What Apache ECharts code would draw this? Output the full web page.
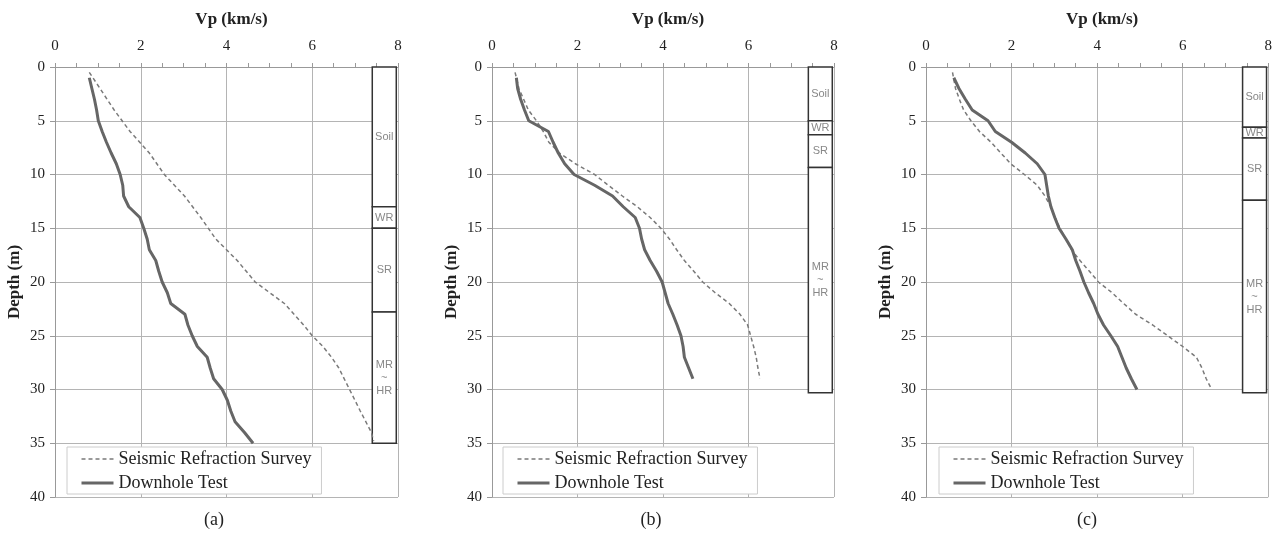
<!DOCTYPE html>
<html><head><meta charset="utf-8">
<script src="https://cdn.jsdelivr.net/npm/echarts@6/dist/echarts.min.js"></script>
<style>html,body{margin:0;padding:0;background:#fff}#c{width:1275px;height:534px}</style>
</head><body><div id="c"></div>
<script>
// ---------- DATA ----------
const seriesNames = ['Seismic Refraction Survey', 'Downhole Test'];
const panelLabels = ['(a)', '(b)', '(c)'];
const xTickValues = [0, 2, 4, 6, 8];
const yTickValues = [0, 5, 10, 15, 20, 25, 30, 35, 40];

// Panel (a)
const aRefDepth = [0.5, 2, 4, 6, 8, 10, 12, 14, 16, 17, 18, 20, 22, 24, 25, 26, 27, 28, 30, 32, 34, 34.8];
const aRefVp    = [0.8, 1.05, 1.38, 1.75, 2.2, 2.55, 3.02, 3.4, 3.75, 4.0, 4.25, 4.67, 5.35, 5.8, 6.0, 6.25, 6.45, 6.62, 6.87, 7.12, 7.38, 7.43];
const aDhDepth  = [1, 2, 3, 4, 5, 6, 7, 8, 9, 10, 11, 12, 13, 14, 15, 16, 17, 18, 19, 20, 21, 22, 23, 24, 25, 26, 27, 28, 29, 30, 31, 32, 33, 34, 35];
const aDhVp     = [0.8, 0.86, 0.92, 0.97, 1.01, 1.1, 1.2, 1.31, 1.43, 1.52, 1.58, 1.6, 1.72, 1.98, 2.07, 2.15, 2.2, 2.35, 2.42, 2.5, 2.62, 2.7, 3.03, 3.1, 3.2, 3.32, 3.55, 3.62, 3.7, 3.9, 4.02, 4.1, 4.2, 4.42, 4.62];
const aStrataNames = ['Soil', 'WR', 'SR', 'MR\n~\nHR'];
const aStrataTops  = [0, 13, 15, 22.8];
const aStrataBots  = [13, 15, 22.8, 35];

// Panel (b)
const bRefDepth = [0.5, 2, 4, 5, 6, 7, 8, 9, 10, 11, 12, 13, 14, 15, 16, 17, 18, 19, 20, 21, 22, 23, 24, 25, 26, 27, 28, 29];
const bRefVp    = [0.54, 0.63, 0.85, 1.04, 1.2, 1.33, 1.58, 1.95, 2.4, 2.72, 3.05, 3.4, 3.7, 3.95, 4.15, 4.32, 4.5, 4.72, 4.93, 5.22, 5.55, 5.8, 5.98, 6.05, 6.12, 6.18, 6.22, 6.27];
const bDhDepth  = [1, 2, 3, 4, 5, 6, 7, 8, 9, 10, 11, 12, 13, 14, 15, 16, 17, 18, 19, 20, 21, 22, 23, 24, 25, 26, 27, 28, 29];
const bDhVp     = [0.57, 0.6, 0.67, 0.76, 0.86, 1.32, 1.43, 1.55, 1.7, 1.92, 2.4, 2.82, 3.07, 3.35, 3.45, 3.5, 3.57, 3.7, 3.85, 3.98, 4.05, 4.12, 4.23, 4.33, 4.42, 4.47, 4.5, 4.6, 4.7];
const bStrataNames = ['Soil', 'WR', 'SR', 'MR\n~\nHR'];
const bStrataTops  = [0, 5, 6.3, 9.35];
const bStrataBots  = [5, 6.3, 9.35, 30.3];

// Panel (c)
const cRefDepth = [0.5, 2, 3, 4, 5, 6, 7, 8, 9, 10, 11, 12, 13, 14, 15, 16, 17, 18, 19, 20, 21, 22, 23, 24, 25, 26, 27, 28, 29, 30];
const cRefVp    = [0.62, 0.69, 0.78, 0.88, 1.05, 1.25, 1.52, 1.75, 1.98, 2.3, 2.6, 2.78, 2.92, 3.02, 3.13, 3.27, 3.4, 3.6, 3.82, 4.03, 4.35, 4.62, 4.9, 5.3, 5.65, 6.0, 6.32, 6.45, 6.55, 6.68];
const cDhDepth  = [1, 2, 3, 4, 5, 6, 7, 8, 9, 10, 11, 12, 13, 14, 15, 16, 17, 18, 19, 20, 21, 22, 23, 24, 25, 26, 27, 28, 29, 30];
const cDhVp     = [0.65, 0.77, 0.92, 1.08, 1.45, 1.62, 2.0, 2.32, 2.6, 2.78, 2.82, 2.86, 2.92, 3.01, 3.11, 3.27, 3.42, 3.5, 3.6, 3.69, 3.8, 3.92, 4.02, 4.15, 4.32, 4.48, 4.58, 4.68, 4.8, 4.93];
const cStrataNames = ['Soil', 'WR', 'SR', 'MR\n~\nHR'];
const cStrataTops  = [0, 5.6, 6.6, 12.4];
const cStrataBots  = [5.6, 6.6, 12.4, 30.3];

// ---------- BUILD ----------
const panels = [
  {ref: [aRefVp, aRefDepth], dh: [aDhVp, aDhDepth], st: [aStrataNames, aStrataTops, aStrataBots]},
  {ref: [bRefVp, bRefDepth], dh: [bDhVp, bDhDepth], st: [bStrataNames, bStrataTops, bStrataBots]},
  {ref: [cRefVp, cRefDepth], dh: [cDhVp, cDhDepth], st: [cStrataNames, cStrataTops, cStrataBots]}
];
const grids = [
  {left: 55, top: 67, width: 343, height: 430},
  {left: 492, top: 67, width: 342, height: 430},
  {left: 926, top: 67, width: 348, height: 430}
];
const legendPos = [{left: 67, top: 447}, {left: 503, top: 447}, {left: 939, top: 447}];
const captionX = [214, 651, 1087];
const COL_X0 = 7.4, COL_X1 = 7.96;
const SERIF = 'Liberation Serif';
const zip = (xs, ys) => xs.map((x, i) => [x, ys[i]]);

const xAxes = [], yAxes = [], series = [], legends = [], graphics = [];
panels.forEach((p, i) => {
  xAxes.push({
    gridIndex: i, type: 'value', position: 'top', min: xTickValues[0], max: xTickValues[xTickValues.length - 1],
    interval: xTickValues[1] - xTickValues[0],
    name: 'Vp (km/s)', nameLocation: 'middle', nameGap: 39,
    nameTextStyle: {fontFamily: SERIF, fontWeight: 'bold', fontSize: 17, color: '#222', padding: [0, 0, 0, 10]},
    axisLine: {show: true, lineStyle: {color: '#999', width: 1}},
    axisTick: {show: true, length: 4, lineStyle: {color: '#999'}},
    minorTick: {show: true, splitNumber: 4, length: 4, lineStyle: {color: '#999'}},
    splitLine: {show: true, lineStyle: {color: '#b4b4b4', width: 1}},
    axisLabel: {fontFamily: SERIF, fontSize: 15, color: '#222', margin: 13}
  });
  yAxes.push({
    gridIndex: i, type: 'value', inverse: true, min: yTickValues[0], max: yTickValues[yTickValues.length - 1],
    interval: yTickValues[1] - yTickValues[0],
    name: 'Depth (m)', nameLocation: 'middle', nameGap: 32, nameRotate: 90,
    nameTextStyle: {fontFamily: SERIF, fontWeight: 'bold', fontSize: 17, color: '#222'},
    axisLine: {show: true, lineStyle: {color: '#999', width: 1}},
    axisTick: {show: true, length: 5, lineStyle: {color: '#999'}},
    splitLine: {show: true, lineStyle: {color: '#b4b4b4', width: 1}},
    axisLabel: {fontFamily: SERIF, fontSize: 15, color: '#222', margin: 10}
  });
  const [sNames, sTops, sBots] = p.st;
  series.push({
    name: seriesNames[0], type: 'line', xAxisIndex: i, yAxisIndex: i, symbol: 'none',
    data: zip(p.ref[0], p.ref[1]), z: 3,
    lineStyle: {color: '#7a7a7a', width: 1.5, type: [4, 3]}, itemStyle: {color: '#7a7a7a'}
  });
  series.push({
    name: seriesNames[1], type: 'line', xAxisIndex: i, yAxisIndex: i, symbol: 'none',
    data: zip(p.dh[0], p.dh[1]), z: 4,
    lineStyle: {color: '#666', width: 3}, itemStyle: {color: '#666'},
    markArea: {
      silent: true,
      itemStyle: {color: '#fff', borderColor: '#333', borderWidth: 1.5},
      label: {show: true, position: 'inside', color: '#888', fontFamily: 'Liberation Sans', fontSize: 11, lineHeight: 13},
      data: sNames.map((n, k) => [{name: n, xAxis: COL_X0, yAxis: sTops[k]}, {xAxis: COL_X1, yAxis: sBots[k]}])
    }
  });
  legends.push({
    left: legendPos[i].left, top: legendPos[i].top, orient: 'vertical',
    data: [
      {name: seriesNames[0], lineStyle: {width: 1.5, color: '#7a7a7a', type: [4, 3]}},
      {name: seriesNames[1], lineStyle: {width: 3, color: '#666', type: 'solid'}}
    ],
    itemWidth: 32, itemHeight: 14, itemGap: 6,
    padding: [3, 10, 2, 13], borderColor: '#ccc', borderWidth: 1, backgroundColor: '#fff',
    itemStyle: {opacity: 0},
    textStyle: {fontFamily: SERIF, fontSize: 18, color: '#222'},
    selectedMode: false
  });
  graphics.push({
    type: 'text', x: captionX[i], y: 520,
    style: {text: panelLabels[i], textAlign: 'center', textVerticalAlign: 'middle', font: '18px "Liberation Serif"', fill: '#222'}
  });
});

const chart = echarts.init(document.getElementById('c'), null, {renderer: 'canvas'});
chart.setOption({
  animation: false,
  backgroundColor: '#fff',
  grid: grids,
  xAxis: xAxes,
  yAxis: yAxes,
  legend: legends,
  series: series,
  graphic: graphics
});
</script>
</body></html>
